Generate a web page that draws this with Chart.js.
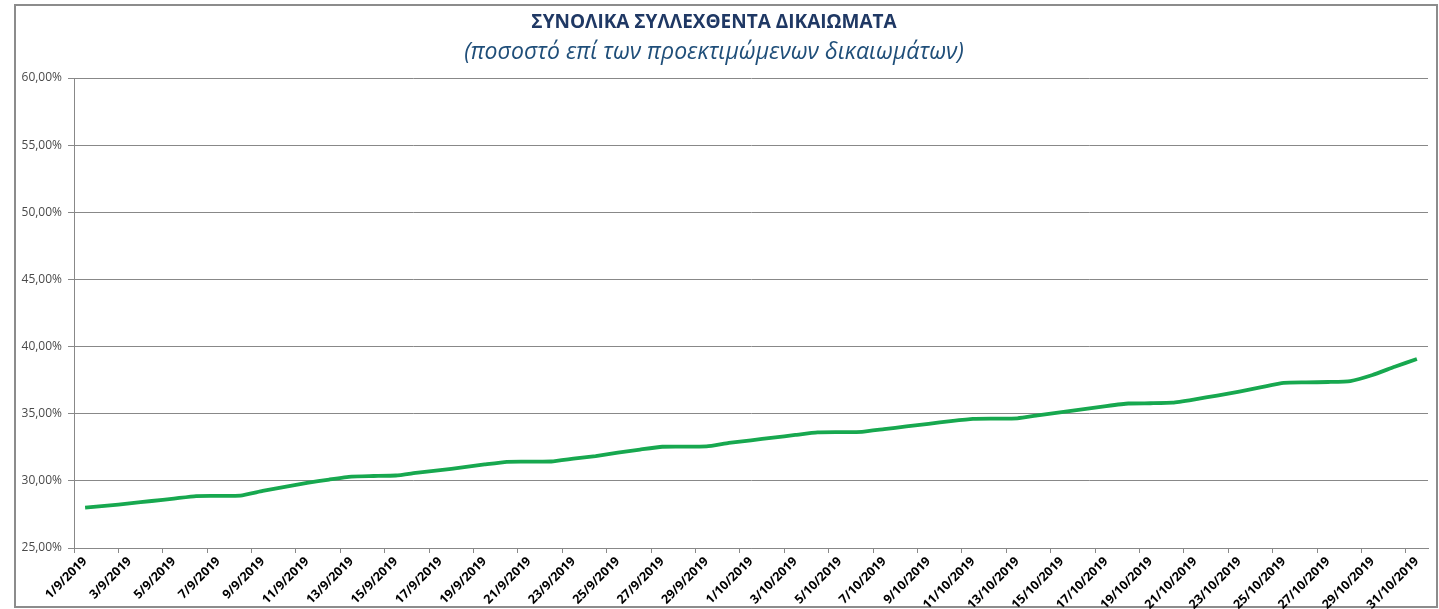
<!DOCTYPE html>
<html>
<head>
<meta charset="utf-8">
<script src="https://cdn.jsdelivr.net/npm/chart.js@4/dist/chart.umd.min.js"></script>
<style>
  body { margin: 0; background: #fff; }
  #frame {
    position: absolute; left: 14px; top: 4px; width: 1424px; height: 604px;
    box-sizing: border-box; border: 2px solid #8c8c8c;
  }
  #chart { position: absolute; left: 0; top: 0; }
</style>
</head>
<body>
<div id="frame"></div>
<canvas id="chart" width="1439" height="609"></canvas>
<script>
// dates (daily, 1/9/2019 - 31/10/2019)
const dates = [
  "1/9/2019", "2/9/2019", "3/9/2019", "4/9/2019", "5/9/2019", "6/9/2019", "7/9/2019", "8/9/2019",
  "9/9/2019", "10/9/2019", "11/9/2019", "12/9/2019", "13/9/2019", "14/9/2019", "15/9/2019",
  "16/9/2019", "17/9/2019", "18/9/2019", "19/9/2019", "20/9/2019", "21/9/2019", "22/9/2019",
  "23/9/2019", "24/9/2019", "25/9/2019", "26/9/2019", "27/9/2019", "28/9/2019", "29/9/2019",
  "30/9/2019", "1/10/2019", "2/10/2019", "3/10/2019", "4/10/2019", "5/10/2019", "6/10/2019",
  "7/10/2019", "8/10/2019", "9/10/2019", "10/10/2019", "11/10/2019", "12/10/2019", "13/10/2019",
  "14/10/2019", "15/10/2019", "16/10/2019", "17/10/2019", "18/10/2019", "19/10/2019", "20/10/2019",
  "21/10/2019", "22/10/2019", "23/10/2019", "24/10/2019", "25/10/2019", "26/10/2019", "27/10/2019",
  "28/10/2019", "29/10/2019", "30/10/2019", "31/10/2019"
];

// % collected
const collected = [
  28.00, 28.15, 28.32, 28.50, 28.68, 28.87, 28.88, 28.90,
  29.25, 29.55, 29.85, 30.10, 30.32, 30.36, 30.40,
  30.62, 30.80, 31.00, 31.22, 31.42, 31.43, 31.44,
  31.65, 31.85, 32.10, 32.33, 32.54, 32.55, 32.56,
  32.82, 33.02, 33.22, 33.42, 33.61, 33.63, 33.65,
  33.85, 34.05, 34.25, 34.45, 34.62, 34.64, 34.66,
  34.90, 35.12, 35.35, 35.57, 35.76, 35.78, 35.82,
  36.07, 36.35, 36.65, 36.98, 37.30, 37.33, 37.36,
  37.43, 37.88, 38.50, 39.07
];

const yMin = 25;
const yMax = 60;
const yStep = 5;

const titleText = "ΣΥΝΟΛΙΚΑ ΣΥΛΛΕΧΘΕΝΤΑ ΔΙΚΑΙΩΜΑΤΑ";
const subtitleText = "(ποσοστό επί των προεκτιμώμενων δικαιωμάτων)";

const gridGray = "#888888";

new Chart(document.getElementById("chart"), {
  type: "line",
  data: {
    labels: dates,
    datasets: [{
      data: collected,
      borderColor: "#17a84f",
      borderWidth: 3.8,
      pointRadius: 0,
      tension: 0.15,
      fill: false
    }]
  },
  options: {
    responsive: false,
    animation: false,
    layout: { padding: { left: 0, right: 11, top: 0, bottom: 0 } },
    plugins: {
      legend: { display: false },
      tooltip: { enabled: false },
      title: {
        display: true,
        text: titleText,
        color: "#1f3864",
        font: { family: "Open Sans", size: 19, weight: "bold" },
        padding: { top: 11, bottom: 0 }
      },
      subtitle: {
        display: true,
        text: subtitleText,
        color: "#1f4e79",
        font: { family: "Open Sans", size: 23, style: "italic" },
        padding: { top: 4.4, bottom: 12.2 }
      }
    },
    scales: {
      x: {
        type: "category",
        offset: true,
        border: { display: true, color: gridGray, width: 1 },
        grid: {
          offset: true,
          drawOnChartArea: false,
          drawTicks: true,
          tickLength: 5,
          tickColor: (ctx) => (ctx.index % 2 === 0 ? gridGray : "rgba(0,0,0,0)")
        },
        ticks: {
          autoSkip: false,
          minRotation: 45,
          maxRotation: 45,
          padding: 1,
          color: "#000",
          font: { family: "Open Sans", size: 12.5, weight: "bold" },
          callback: function (val, i) { return i % 2 === 0 ? dates[i] : ""; }
        },
        afterFit: (scale) => { scale.height = 61; }
      },
      y: {
        min: yMin,
        max: yMax,
        border: { display: true, color: gridGray, width: 1 },
        grid: { color: gridGray, tickLength: 6 },
        ticks: {
          stepSize: yStep,
          padding: 6,
          color: "#4a4a4a",
          font: { family: "Open Sans", size: 12 },
          callback: (v) => v.toFixed(2).replace(".", ",") + "%"
        },
        afterFit: (scale) => { scale.width = 74; }
      }
    }
  }
});
</script>
</body>
</html>
